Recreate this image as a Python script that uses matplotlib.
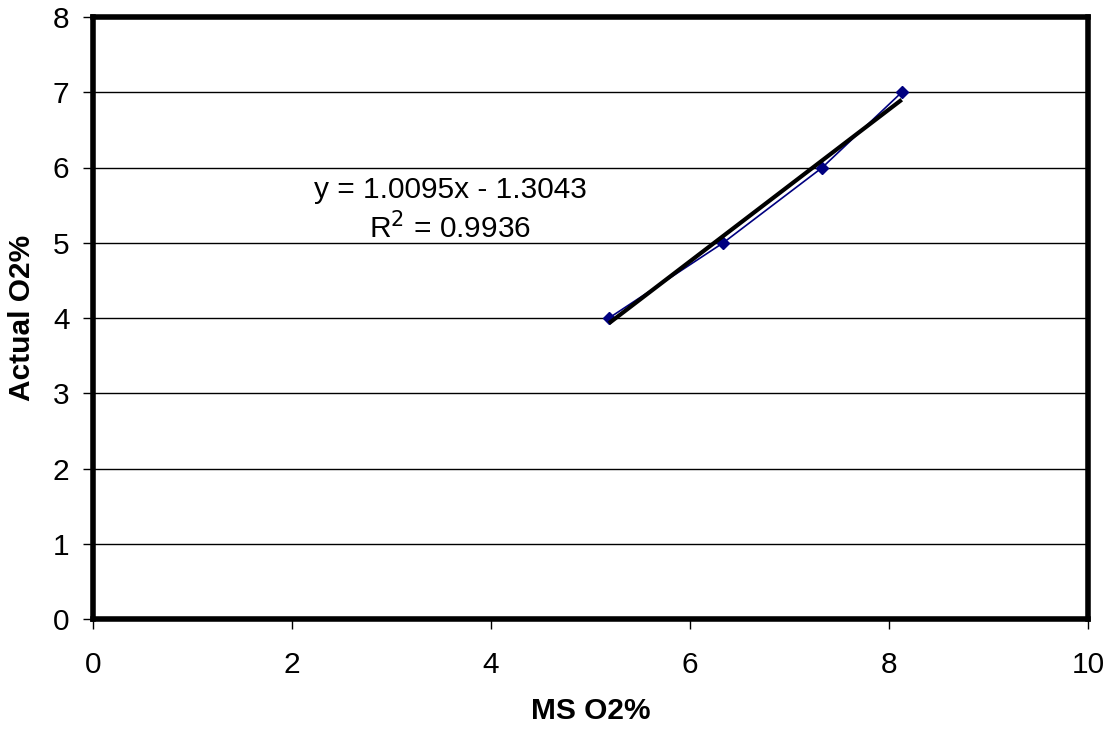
import matplotlib
matplotlib.use("Agg")
import matplotlib.pyplot as plt
import numpy as np

plt.rcParams['font.family'] = ['Liberation Sans', 'DejaVu Sans']

# Measured O2 (mass spec) vs actual O2
ms_o2 = [5.186, 6.335, 7.330, 8.128]
actual_o2 = [4, 5, 6, 7]

# Linear trendline coefficients
slope = 1.0095
intercept = -1.3043
r_squared = 0.9936

x_ticks = [0, 2, 4, 6, 8, 10]
y_ticks = [0, 1, 2, 3, 4, 5, 6, 7, 8]

fig = plt.figure(figsize=(11.1, 7.3), dpi=100)
ax = fig.add_axes([93 / 1110, 1 - 619 / 730, (1088 - 93) / 1110, (619 - 17) / 730])

ax.set_xlim(0, 10)
ax.set_ylim(0, 8)

# horizontal gridlines
for yv in y_ticks[1:-1]:
    ax.axhline(yv, color='black', lw=1.0, zorder=1)

ax.plot(ms_o2, actual_o2, color='#000080', lw=1.2, marker='D', markersize=6,
        markerfacecolor='#000080', markeredgecolor='#000080', zorder=3)

xt = np.array([min(ms_o2), max(ms_o2)])
ax.plot(xt, slope * xt + intercept, color='black', lw=3, zorder=4, solid_capstyle='butt')

ax.text(3.59, 5.70, f"y = {slope:.4f}x - {abs(intercept):.4f}", ha='center', va='center', fontsize=21.5)
ax.text(3.59, 5.20, f"R$^2$ = {r_squared:.4f}", ha='center', va='center', fontsize=21.5)

ax.set_xticks(x_ticks)
ax.set_yticks(y_ticks)
ax.tick_params(axis='both', direction='out', length=7, width=1, labelsize=21.5)
ax.tick_params(axis='x', pad=16)
ax.tick_params(axis='y', pad=10)

for s in ax.spines.values():
    s.set_linewidth(4)
    s.set_color('black')

ax.set_xlabel("MS O2%", fontsize=21.5, fontweight='bold')
ax.set_ylabel("Actual O2%", fontsize=21.5, fontweight='bold')
ax.xaxis.set_label_coords(0.5, (619 - 711) / 602)
ax.xaxis.label.set_va('center')
ax.yaxis.set_label_coords((22 - 93) / 995, 0.5)
ax.yaxis.label.set_va('center')

fig.savefig("out.png", dpi=100)
